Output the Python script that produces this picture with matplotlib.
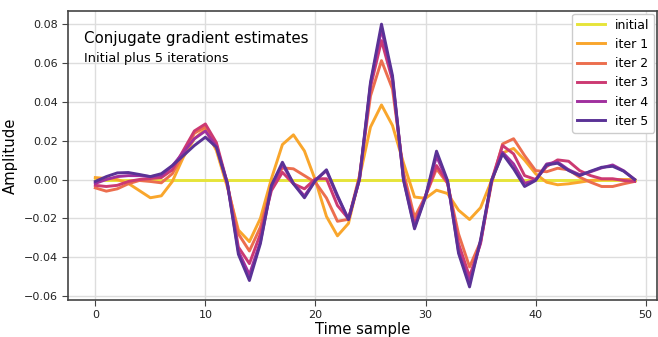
import numpy as np
import matplotlib
matplotlib.use("Agg")
import matplotlib.pyplot as plt

samples = np.arange(50)

initial = [0.0] * 50

iter1 = [0.001, 0.0005, 0.0, -0.002, -0.0057, -0.0094, -0.0084, -0.001, 0.0115, 0.021,
         0.026, 0.015, -0.004, -0.026, -0.032, -0.020, 0.0004, 0.018, 0.023, 0.0147,
         -0.0005, -0.019, -0.029, -0.0226, 0.001, 0.027, 0.0384, 0.0278, 0.0085, -0.009,
         -0.0097, -0.0055, -0.0072, -0.0158, -0.0206, -0.0145, -0.0005, 0.0137, 0.016, 0.010,
         0.003, -0.0014, -0.0027, -0.0022, -0.0014, -0.0005, 0.0, 0.0, 0.0, 0.0]

iter2 = [-0.0043, -0.006, -0.0048, -0.0022, -0.0005, -0.001, -0.0017, 0.003, 0.013, 0.0238,
         0.0272, 0.018, -0.003, -0.028, -0.0368, -0.0245, -0.0035, 0.006, 0.0055, 0.002,
         -0.0015, -0.0095, -0.0215, -0.0205, 0.002, 0.043, 0.0612, 0.0466, 0.0037, -0.0195,
         -0.0085, 0.0055, -0.002, -0.028, -0.045, -0.032, -0.002, 0.0183, 0.021, 0.0123,
         0.0046, 0.004, 0.0058, 0.005, 0.0012, -0.0014, -0.0036, -0.0036, -0.0022, -0.001]

iter3 = [-0.003, -0.0036, -0.003, -0.001, 0.0, 0.0005, 0.001, 0.005, 0.015, 0.025,
         0.0286, 0.019, -0.002, -0.0348, -0.0433, -0.028, -0.0057, 0.0037, -0.0022, -0.0048,
         0.0004, 0.0004, -0.0134, -0.0202, 0.0, 0.0475, 0.0715, 0.051, 0.001, -0.023,
         -0.0085, 0.0072, -0.0014, -0.033, -0.050, -0.033, -0.0005, 0.0175, 0.0132, 0.002,
         0.0, 0.0067, 0.0101, 0.0094, 0.0046, 0.002, 0.0004, 0.0004, -0.0005, -0.001]

iter4 = [-0.002, 0.0, 0.0015, 0.002, 0.002, 0.0015, 0.002, 0.007, 0.014, 0.021,
         0.025, 0.017, -0.002, -0.037, -0.049, -0.032, -0.004, 0.0077, -0.002, -0.0085,
         -0.0002, 0.0045, -0.009, -0.0205, 0.0, 0.049, 0.0775, 0.052, 0.0, -0.0245,
         -0.0085, 0.012, -0.001, -0.037, -0.053, -0.032, -0.0005, 0.014, 0.008, -0.002,
         -0.0003, 0.008, 0.009, 0.005, 0.0025, 0.004, 0.006, 0.0075, 0.0045, 0.0]

iter5 = [-0.001, 0.0015, 0.0034, 0.0036, 0.0026, 0.0015, 0.003, 0.0072, 0.0123, 0.0175,
         0.0218, 0.0166, -0.002, -0.0385, -0.052, -0.033, -0.003, 0.0089, -0.0022, -0.0094,
         -0.0005, 0.005, -0.0082, -0.0206, 0.0004, 0.050, 0.080, 0.0535, -0.0003, -0.0254,
         -0.009, 0.0146, -0.0005, -0.038, -0.0553, -0.031, -0.0005, 0.0132, 0.0055, -0.0036,
         -0.0005, 0.0075, 0.0084, 0.0046, 0.002, 0.0043, 0.0063, 0.0068, 0.0043, 0.0]

labels = ["initial", "iter 1", "iter 2", "iter 3", "iter 4", "iter 5"]
series = [initial, iter1, iter2, iter3, iter4, iter5]
colors = ["#e6e43a", "#f9a62c", "#ec6e4e", "#cc3a72", "#a0309e", "#5a3296"]

fig = plt.figure(figsize=(6.58, 3.37), dpi=100)
ax = fig.add_axes([0.103, 0.110, 0.895, 0.857])

for vals, lab, c in zip(series, labels, colors):
    ax.plot(samples, vals, color=c, lw=2.1, label=lab)

ax.set_xlim(-2.5, 51)
ax.set_ylim(-0.062, 0.0867)
ax.set_xticks([0, 10, 20, 30, 40, 50])
ax.set_yticks([-0.06, -0.04, -0.02, 0.0, 0.02, 0.04, 0.06, 0.08])
ax.grid(True, color="#dddddd", lw=1)
ax.set_axisbelow(True)
for s in ax.spines.values():
    s.set_color("#444444")
    s.set_linewidth(1.2)
ax.tick_params(colors="#444444", labelcolor="#222222", labelsize=8, length=4, pad=3)

ax.set_xlabel("Time sample", fontsize=10.7, labelpad=2)
ax.set_ylabel("Amplitude", fontsize=10.7, labelpad=4)

ax.text(0.027, 0.906, "Conjugate gradient estimates", transform=ax.transAxes,
        fontsize=10.8, va="center")
ax.text(0.027, 0.837, "Initial plus 5 iterations", transform=ax.transAxes,
        fontsize=9.3, va="center")

ax.legend(loc="upper right", fontsize=9, handlelength=2.2, framealpha=1,
          borderaxespad=0.2)

fig.savefig("out.png", dpi=100)
